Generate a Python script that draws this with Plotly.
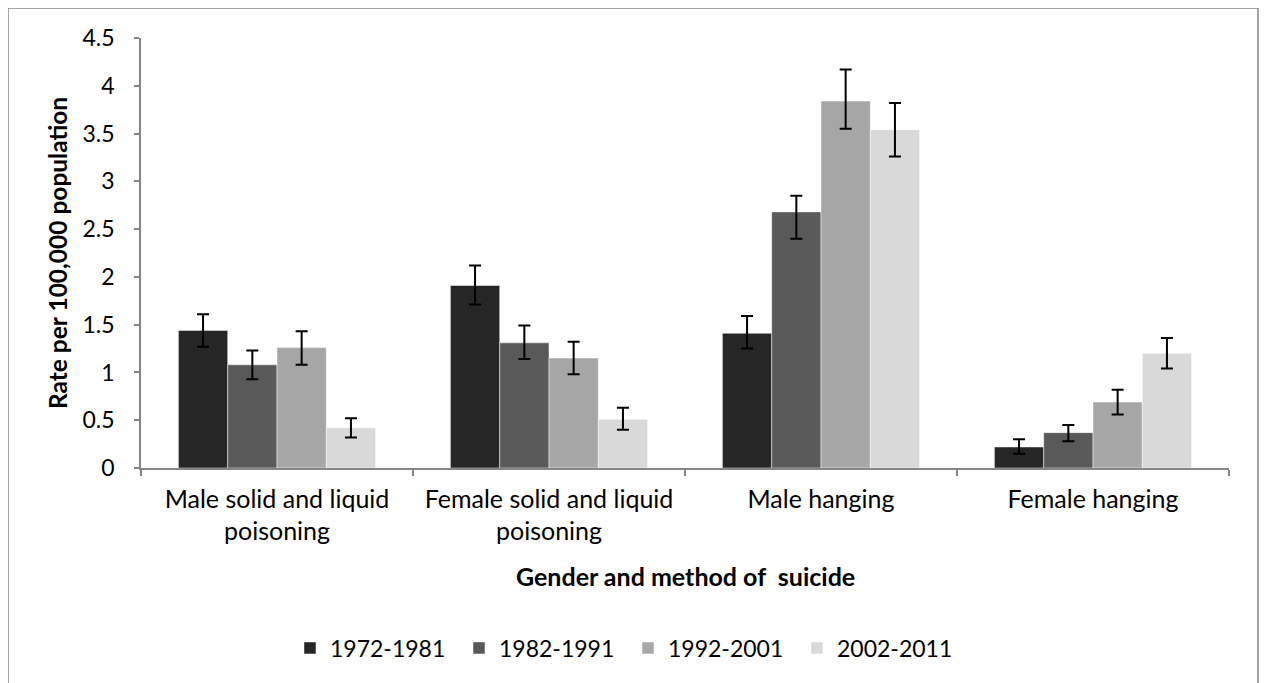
import plotly.graph_objects as go

categories = ["Male solid and liquid<br>poisoning", "Female solid and liquid<br>poisoning",
              "Male hanging", "Female hanging"]
series_names = ["1972-1981", "1982-1991", "1992-2001", "2002-2011"]
colors = ["#262626", "#595959", "#a6a6a6", "#d9d9d9"]

v_1972 = [1.44, 1.91, 1.41, 0.22]
v_1982 = [1.08, 1.31, 2.68, 0.37]
v_1992 = [1.26, 1.15, 3.84, 0.69]
v_2002 = [0.42, 0.51, 3.54, 1.20]

up_1972 = [0.17, 0.21, 0.18, 0.08]
lo_1972 = [0.17, 0.20, 0.16, 0.07]
up_1982 = [0.15, 0.18, 0.17, 0.08]
lo_1982 = [0.15, 0.17, 0.28, 0.09]
up_1992 = [0.17, 0.17, 0.33, 0.13]
lo_1992 = [0.18, 0.17, 0.29, 0.13]
up_2002 = [0.10, 0.12, 0.28, 0.16]
lo_2002 = [0.10, 0.11, 0.28, 0.16]

values = [v_1972, v_1982, v_1992, v_2002]
ups = [up_1972, up_1982, up_1992, up_2002]
los = [lo_1972, lo_1982, lo_1992, lo_2002]

FONT = "Lato"
fig = go.Figure()
for name, col, v, u, l in zip(series_names, colors, values, ups, los):
    fig.add_trace(go.Bar(
        x=categories, y=v, name=name,
        marker=dict(color=col, line=dict(color="rgba(255,255,255,0.6)", width=0.8)),
        error_y=dict(type="data", array=u, arrayminus=l, symmetric=False,
                     color="black", thickness=2, width=6),
    ))

# page body has an 8px margin; screen coords = figure coords + OFF
OFF = 8
W, H = 1267, 683
sL, sR, sT, sB = 141, 1229, 38, 468   # plot area in screen pixels
L = sL - OFF
T = sT - OFF
R = W - (sR - OFF)
B = H - (sB - OFF)
pw = W - L - R
ph = H - T - B

def px(xs):
    return (xs - OFF - L) / pw

def py(ys):
    return (H - B - (ys - OFF)) / ph

fig.update_layout(
    width=W, height=H,
    margin=dict(l=L, r=R, t=T, b=B, autoexpand=False),
    paper_bgcolor="white", plot_bgcolor="white",
    font=dict(family=FONT, size=23, color="black"),
    barmode="group", bargap=0.275, bargroupgap=0,
    showlegend=True,
    legend=dict(orientation="h", x=px(290), y=py(648), xanchor="left", yanchor="middle",
                font=dict(size=23), entrywidth=124, itemwidth=30, traceorder="normal"),
    xaxis=dict(showline=True, linecolor="#868686", linewidth=1.5, automargin=False,
               ticks="outside", tickson="boundaries", ticklen=6, tickcolor="#868686",
               tickwidth=1.5, showgrid=False, tickfont=dict(size=25),
               ticklabelstandoff=8),
    yaxis=dict(range=[0, 4.5], dtick=0.5, showline=True, linecolor="#868686", linewidth=1.5,
               automargin=False,
               ticks="outside", ticklen=5, tickcolor="#868686", tickwidth=1.5,
               showgrid=False, zeroline=False, tickfont=dict(size=23),
               ticklabelstandoff=15),
    shapes=[dict(type="rect", xref="paper", yref="paper",
                 x0=px(8), x1=px(1258), y0=py(700), y1=py(8),
                 line=dict(color="#868686", width=1.5), fillcolor="rgba(0,0,0,0)", layer="below")],
    annotations=[
        dict(text="<b>Gender and method of  suicide</b>", xref="paper", yref="paper",
             x=px(685), y=py(576), xanchor="center", yanchor="middle",
             showarrow=False, font=dict(size=25)),
        dict(text="<b>Rate per 100,000 population</b>", xref="paper", yref="paper",
             x=px(57), y=py(253), xanchor="center", yanchor="middle", textangle=-90,
             showarrow=False, font=dict(size=24.5)),
    ],
)

fig.write_html("out.html")
